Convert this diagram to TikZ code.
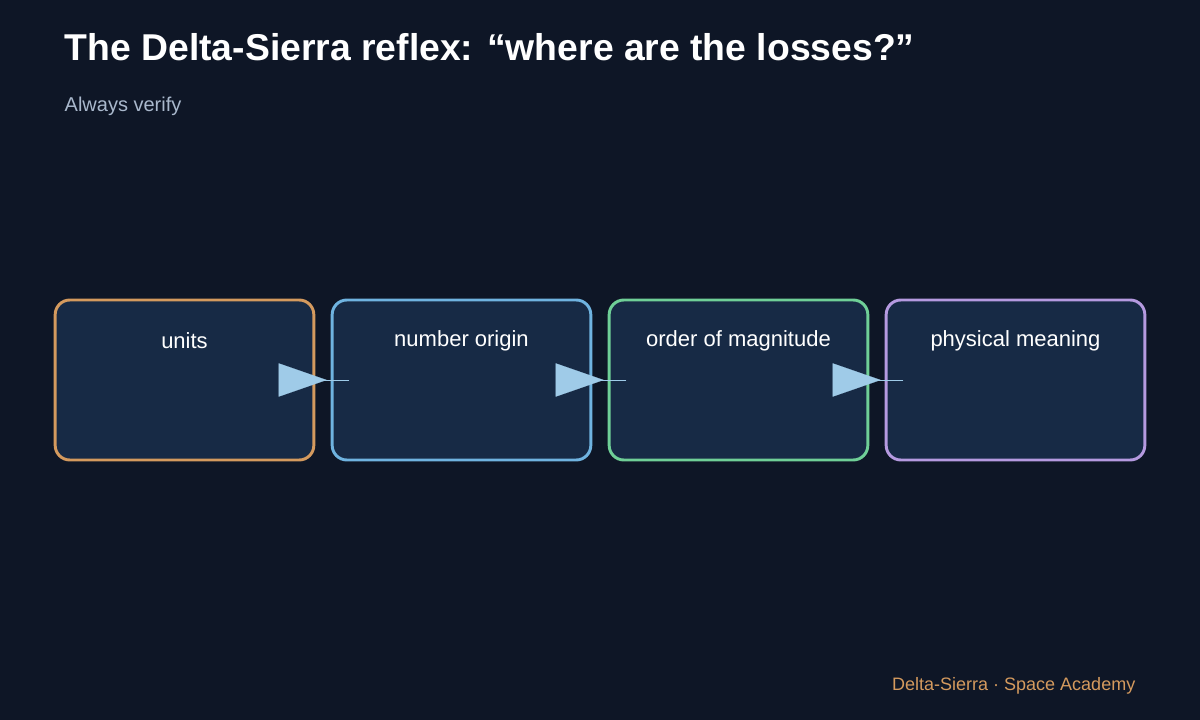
\documentclass[tikz,border=0pt]{standalone}
\usepackage{fontspec}
\setmainfont{Liberation Sans}
\usetikzlibrary{arrows.meta}
\definecolor{bg}{HTML}{0E1626}
\definecolor{boxfill}{HTML}{172A45}
\definecolor{cOr}{HTML}{D49A5E}
\definecolor{cBl}{HTML}{6FB3E0}
\definecolor{cGr}{HTML}{6FCF97}
\definecolor{cPu}{HTML}{B59AE0}
\definecolor{arrc}{HTML}{9FCBE8}
\definecolor{sub}{HTML}{A9B8CC}
\begin{document}
\begin{tikzpicture}[x=0.75pt,y=-0.75pt,
  box/.style={draw=#1,line width=2.2pt,fill=boxfill,rounded corners=11pt,minimum width=194pt,minimum height=120pt,anchor=center},
  lab/.style={text=white,font=\fontsize{16.5}{19}\selectfont},
  arr/.style={-{Triangle[length=36pt,width=25pt]},arrc,line width=0.1pt,shorten <=-25.5pt,shorten >=3pt}]
\fill[bg] (0,0) rectangle (1200,720);
\useasboundingbox (0,0) rectangle (1200,720);
\node[anchor=base west,text=white,font=\bfseries\fontsize{28}{32}\selectfont] (title) at (60,61) {The Delta-Sierra reflex: “where are the losses?”};
\node[anchor=base west,text=sub,font=\fontsize{15}{18}\selectfont] (subt) at (60,112) {Always verify};
\node[box=cOr] (a) at (184.5,380) {};
\node[box=cBl] (b) at (461.5,380) {};
\node[box=cGr] (c) at (738.5,380) {};
\node[box=cPu] (d) at (1015.5,380) {};
\node[lab] (la) at (184.5,341) {units};
\node[lab] (lb) at (461.5,341) {number origin};
\node[lab] (lc) at (738.5,341) {order of magnitude};
\node[lab] (ld) at (1015.5,341) {physical meaning};
\draw[arr] (a.east) -- (b.west);
\draw[arr] (b.east) -- (c.west);
\draw[arr] (c.east) -- (d.west);
\node[anchor=base east,text=cOr,font=\fontsize{13.5}{16}\selectfont] (foot) at (1140,690) {Delta-Sierra · Space Academy};
\end{tikzpicture}
\end{document}
